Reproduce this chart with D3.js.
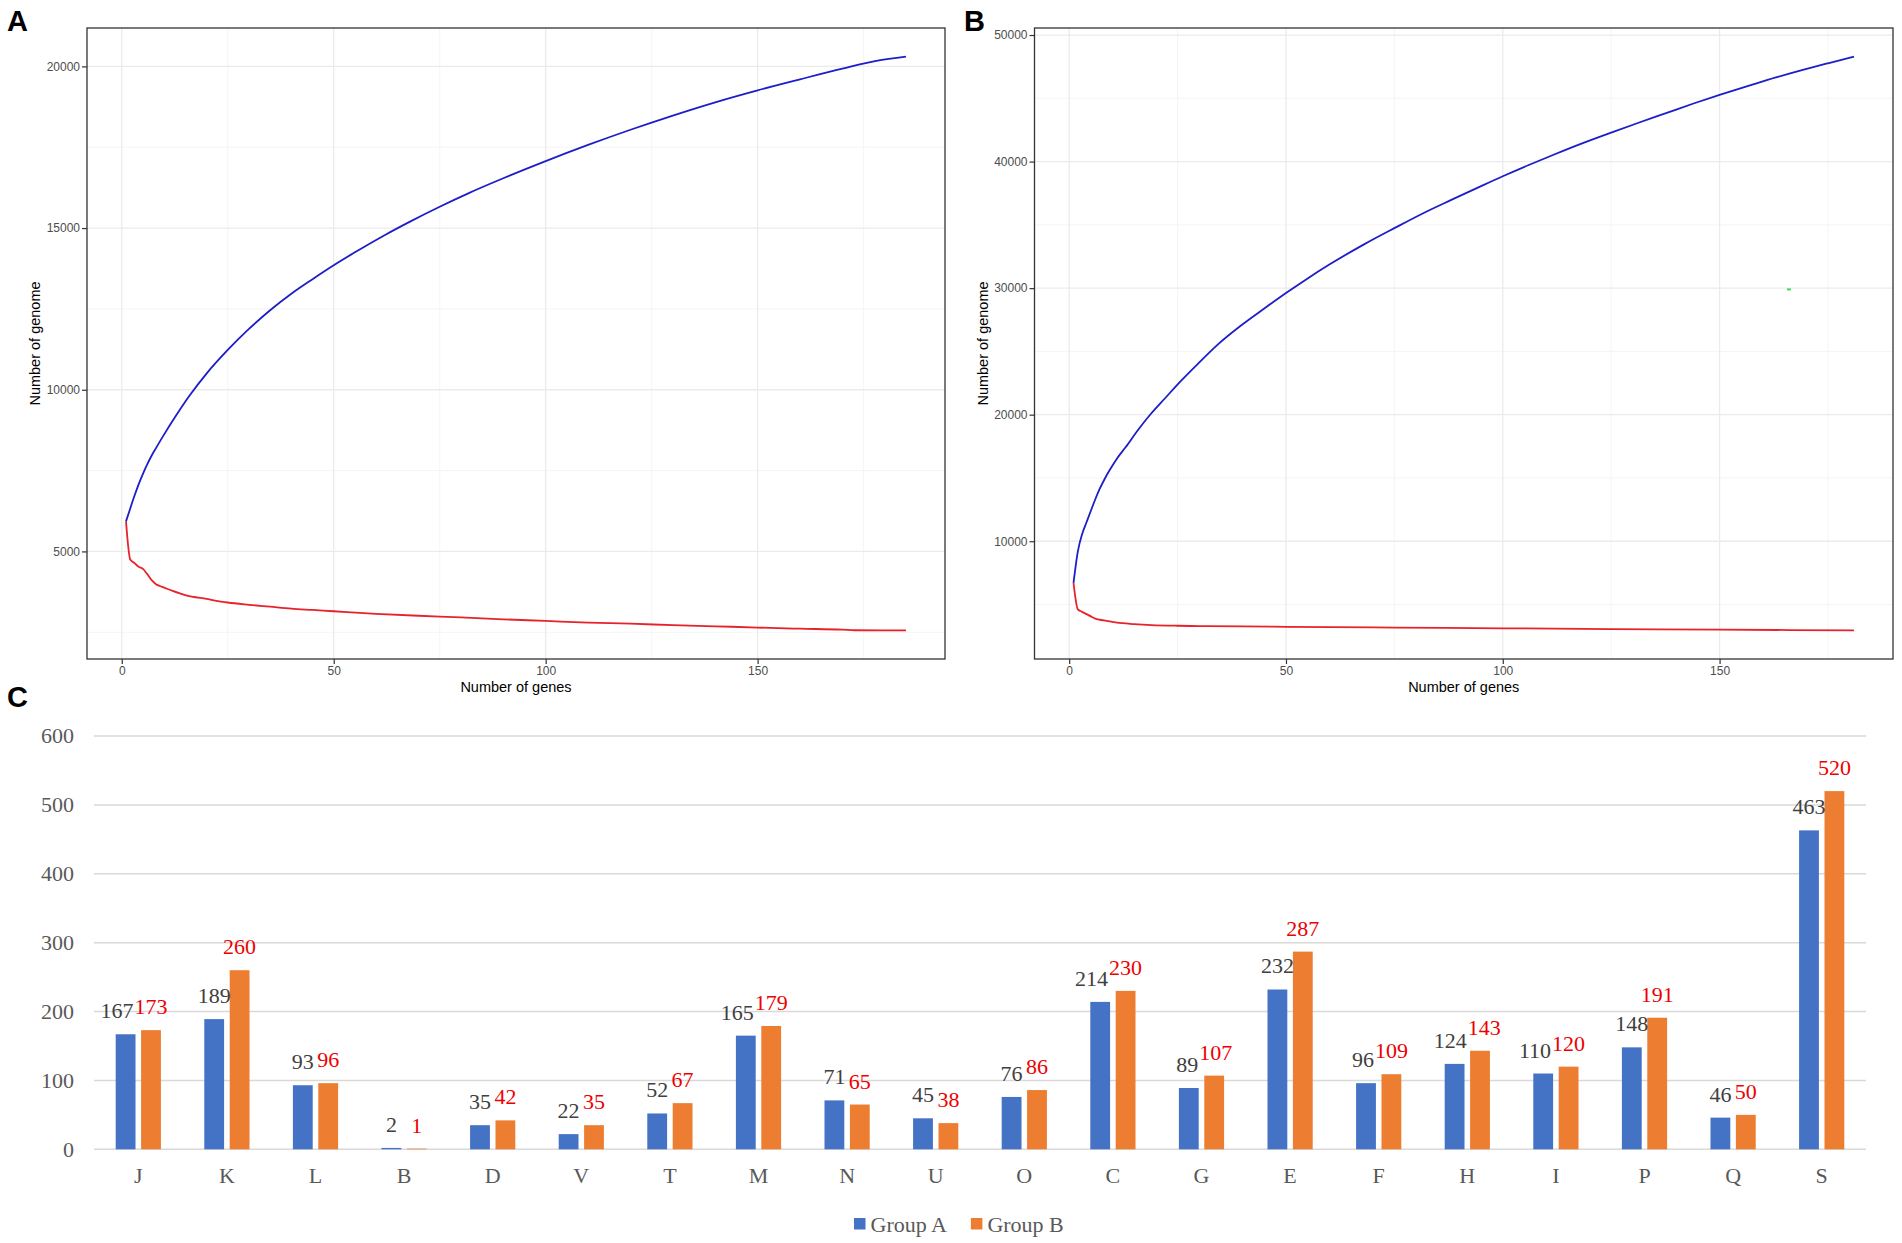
<!DOCTYPE html>
<html lang="en">
<head>
  <meta charset="UTF-8">
  <title>Pan / core genome curves and COG category counts</title>
  <script src="https://d3js.org/d3.v7.min.js"></script>
  <style>
    body { margin: 0; background: #fff; }
    svg { display: block; }
  </style>
</head>
<body>
<svg id="fig" width="1902" height="1243"></svg>

<script>
  // ---- Panel A: pan (blue) and core (red) genome curves ----
  const aPanGenes = [1, 2, 3, 4, 5, 6, 7, 8, 10, 13, 16, 20, 25, 30, 35, 40, 45, 50, 55, 62,
                     68, 75, 82, 90, 100, 110, 120, 130, 140, 150, 160, 170, 178, 185];
  const aPanCount = [5930, 6330, 6720, 7080, 7400, 7690, 7950, 8180, 8620, 9240, 9820, 10500, 11230, 11880, 12460, 12970, 13420, 13850, 14250, 14780,
                     15200, 15660, 16090, 16540, 17070, 17570, 18040, 18480, 18890, 19260, 19600, 19930, 20170, 20300];
  const aCoreGenes = [1, 2, 3, 4, 5, 6, 7, 8, 9, 10, 12, 15, 20, 25, 30, 35, 40, 45, 50, 60,
                      70, 80, 90, 100, 110, 120, 130, 140, 150, 160, 170, 173, 185];
  const aCoreCount = [5930, 4750, 4640, 4525, 4460, 4300, 4120, 3995, 3930, 3880, 3780, 3650, 3530, 3420, 3350, 3290, 3230, 3190, 3150, 3070,
                      3010, 2960, 2900, 2850, 2800, 2765, 2720, 2685, 2645, 2610, 2580, 2562, 2560];

  // ---- Panel B ----
  const bPanGenes = [1, 2, 3, 4, 5, 6, 7, 8, 9, 10, 11, 13, 16, 19, 22, 26, 30, 34, 40, 45,
                     50, 55, 60, 68, 75, 82, 88, 94, 100, 106, 112, 118, 125, 131, 138, 144, 150, 157, 163, 169,
                     175, 181];
  const bPanCount = [6710, 9200, 10580, 11500, 12410, 13300, 14110, 14800, 15430, 15990, 16520, 17420, 18850, 20130, 21260, 22750, 24130, 25460, 27140, 28390,
                     29610, 30770, 31860, 33460, 34740, 35980, 36950, 37900, 38840, 39730, 40580, 41400, 42290, 43030, 43870, 44590, 45270, 46020, 46650, 47230,
                     47770, 48290];
  const bCoreGenes = [1, 2, 3, 4, 5, 6, 8, 11, 15, 19, 25, 30, 40, 50, 75, 100, 125, 150, 181];
  const bCoreCount = [6710, 4610, 4420, 4240, 4060, 3890, 3740, 3560, 3450, 3375, 3320, 3295, 3265, 3240, 3180, 3120, 3060, 3010, 2960];
  const bStrayGenes = [166];
  const bStrayCount = [29900];

  const curveXTicks = [0, 50, 100, 150];
  const curveXMinor = [25, 75, 125, 175];
  const aYTicks = [5000, 10000, 15000, 20000];
  const aYMinor = [2500, 7500, 12500, 17500];
  const bYTicks = [10000, 20000, 30000, 40000, 50000];
  const bYMinor = [5000, 15000, 25000, 35000, 45000];

  // ---- Panel C: COG categories ----
  const cogCats = ["J", "K", "L", "B", "D", "V", "T", "M", "N", "U", "O", "C", "G", "E", "F", "H", "I", "P", "Q", "S"];
  const groupA = [167, 189, 93, 2, 35, 22, 52, 165, 71, 45, 76, 214, 89, 232, 96, 124, 110, 148, 46, 463];
  const groupB = [173, 260, 96, 1, 42, 35, 67, 179, 65, 38, 86, 230, 107, 287, 109, 143, 120, 191, 50, 520];
  const groupNames = ["Group A", "Group B"];
  const cTicks = [0, 100, 200, 300, 400, 500, 600];

  const sans = "'Liberation Sans', Arial, Helvetica, sans-serif";
  const serif = "'Liberation Serif', 'Times New Roman', serif";
  const svg = d3.select("#fig");

  // ggplot style 5% expansion
  function expand(vals) {
    const [lo, hi] = d3.extent(vals);
    const pad = (hi - lo) * 0.05;
    return [lo - pad, hi + pad];
  }

  function curvePanel(box, pan, core, stray, yTicks, yMinor, letter) {
    const g = svg.append("g");
    const allX = pan.x.concat(core.x), allY = pan.y.concat(core.y);
    const x = d3.scaleLinear().domain(expand(allX)).range([box.x0, box.x1]);
    const y = d3.scaleLinear().domain(expand(allY)).range([box.y1, box.y0]);

    // minor grid
    g.append("g").selectAll("line").data(curveXMinor).join("line")
      .attr("x1", d => x(d)).attr("x2", d => x(d)).attr("y1", box.y0).attr("y2", box.y1)
      .attr("stroke", "#f2f2f2").attr("stroke-width", 0.8);
    g.append("g").selectAll("line").data(yMinor).join("line")
      .attr("x1", box.x0).attr("x2", box.x1).attr("y1", d => y(d)).attr("y2", d => y(d))
      .attr("stroke", "#f2f2f2").attr("stroke-width", 0.8);
    // major grid
    g.append("g").selectAll("line").data(curveXTicks).join("line")
      .attr("x1", d => x(d)).attr("x2", d => x(d)).attr("y1", box.y0).attr("y2", box.y1)
      .attr("stroke", "#ebebeb").attr("stroke-width", 1.3);
    g.append("g").selectAll("line").data(yTicks).join("line")
      .attr("x1", box.x0).attr("x2", box.x1).attr("y1", d => y(d)).attr("y2", d => y(d))
      .attr("stroke", "#ebebeb").attr("stroke-width", 1.3);

    const line = d3.line().x(d => x(d[0])).y(d => y(d[1])).curve(d3.curveMonotoneX);
    g.append("path").datum(d3.zip(core.x, core.y)).attr("d", line)
      .attr("fill", "none").attr("stroke", "#e8222a").attr("stroke-width", 1.8);
    g.append("path").datum(d3.zip(pan.x, pan.y)).attr("d", line)
      .attr("fill", "none").attr("stroke", "#1d1dc9").attr("stroke-width", 1.8);

    if (stray) {
      g.selectAll("rect.stray").data(d3.zip(stray.x, stray.y)).join("rect")
        .attr("class", "stray")
        .attr("x", d => x(d[0]) - 2).attr("y", d => y(d[1]) - 1)
        .attr("width", 4).attr("height", 2).attr("fill", "#3cdc5a");
    }

    g.append("rect")
      .attr("x", box.x0).attr("y", box.y0)
      .attr("width", box.x1 - box.x0).attr("height", box.y1 - box.y0)
      .attr("fill", "none").attr("stroke", "#333").attr("stroke-width", 1.3);

    const xAxis = g.append("g").attr("transform", `translate(0,${box.y1})`)
      .call(d3.axisBottom(x).tickValues(curveXTicks).tickSize(5).tickPadding(2).tickFormat(d3.format("d")));
    const yAxis = g.append("g").attr("transform", `translate(${box.x0},0)`)
      .call(d3.axisLeft(y).tickValues(yTicks).tickSize(5).tickPadding(2).tickFormat(d3.format("d")));
    [xAxis, yAxis].forEach(ax => {
      ax.select(".domain").remove();
      ax.selectAll("line").attr("stroke", "#333").attr("stroke-width", 1.2);
      ax.selectAll("text").attr("fill", "#4d4d4d").style("font-family", sans).style("font-size", "12px");
    });

    g.append("text")
      .attr("x", (box.x0 + box.x1) / 2).attr("y", box.y1 + 33)
      .attr("text-anchor", "middle")
      .style("font-family", sans).style("font-size", "14.5px").attr("fill", "#000")
      .text("Number of genes");
    g.append("text")
      .attr("transform", `translate(${box.x0 - 47},${(box.y0 + box.y1) / 2}) rotate(-90)`)
      .attr("text-anchor", "middle")
      .style("font-family", sans).style("font-size", "14.5px").attr("fill", "#000")
      .text("Number of genome");

    svg.append("text")
      .attr("x", letter.x).attr("y", letter.y)
      .style("font-family", sans).style("font-weight", "bold").style("font-size", "29px")
      .text(letter.t);
  }

  curvePanel({x0: 87, x1: 945, y0: 28, y1: 659},
    {x: aPanGenes, y: aPanCount}, {x: aCoreGenes, y: aCoreCount}, null,
    aYTicks, aYMinor, {t: "A", x: 7, y: 31});

  curvePanel({x0: 1034.5, x1: 1893, y0: 28, y1: 659},
    {x: bPanGenes, y: bPanCount}, {x: bCoreGenes, y: bCoreCount}, {x: bStrayGenes, y: bStrayCount},
    bYTicks, bYMinor, {t: "B", x: 964, y: 31});

  // ---- Panel C: grouped bars ----
  const c = svg.append("g");
  const xC = d3.scaleBand().domain(cogCats).range([94, 1866]).paddingInner(0.4266).paddingOuter(0.2133);
  const sub = d3.scaleBand().domain(groupNames).range([0, xC.bandwidth()]).paddingInner(0.22).paddingOuter(0.11);
  const yC = d3.scaleLinear().domain([0, 600]).range([1149.3, 736]);
  const colors = {"Group A": "#4472c4", "Group B": "#ed7d31"};
  const labelColors = {"Group A": "#404040", "Group B": "#ee0000"};

  c.append("g").selectAll("line").data(cTicks).join("line")
    .attr("x1", 94).attr("x2", 1866).attr("y1", d => yC(d)).attr("y2", d => yC(d))
    .attr("stroke", "#d9d9d9").attr("stroke-width", 1.5);
  c.append("g").selectAll("text").data(cTicks).join("text")
    .attr("x", 74).attr("y", d => yC(d)).attr("dy", "0.34em")
    .attr("text-anchor", "end")
    .style("font-family", serif).style("font-size", "22px").attr("fill", "#595959")
    .text(d => d);
  c.append("g").selectAll("text").data(cogCats).join("text")
    .attr("x", d => xC(d) + xC.bandwidth() / 2).attr("y", 1183)
    .attr("text-anchor", "middle")
    .style("font-family", serif).style("font-size", "22px").attr("fill", "#595959")
    .text(d => d);

  const rows = cogCats.map((cat, i) => ({cat, vals: [
    {grp: "Group A", v: groupA[i]}, {grp: "Group B", v: groupB[i]}]}));

  const catG = c.append("g").selectAll("g").data(rows).join("g")
    .attr("transform", d => `translate(${xC(d.cat)},0)`);
  catG.selectAll("rect").data(d => d.vals).join("rect")
    .attr("x", d => sub(d.grp)).attr("width", sub.bandwidth())
    .attr("y", d => yC(d.v)).attr("height", d => yC(0) - yC(d.v))
    .attr("fill", d => colors[d.grp]);
  catG.selectAll("text").data(d => d.vals).join("text")
    .attr("x", d => sub(d.grp) + sub.bandwidth() / 2)
    .attr("y", d => yC(d.v) - 16)
    .attr("text-anchor", "middle")
    .style("font-family", serif).style("font-size", "22px")
    .attr("fill", d => labelColors[d.grp])
    .text(d => d.v);

  // push the two labels of a pair apart where they would collide
  catG.each(function (d) {
    const t = d3.select(this).selectAll("text").nodes();
    const wa = t[0].getComputedTextLength(), wb = t[1].getComputedTextLength();
    const dy = Math.abs(yC(d.vals[0].v) - yC(d.vals[1].v));
    const need = (wa + wb) / 2 + 1 - sub.step();
    if (need <= 0 || dy >= 16) return;
    const left = dy < 12 ? need : need / 2;
    const right = need - left;
    d3.select(t[0]).attr("x", +t[0].getAttribute("x") - left);
    d3.select(t[1]).attr("x", +t[1].getAttribute("x") + right);
  });

  // legend
  const leg = c.append("g").attr("transform", "translate(854,1218)");
  let lx = 0;
  groupNames.forEach(name => {
    leg.append("rect").attr("x", lx).attr("y", 0).attr("width", 11.5).attr("height", 11.5)
      .attr("fill", colors[name]);
    const t = leg.append("text").attr("x", lx + 16.5).attr("y", 13.5)
      .style("font-family", serif).style("font-size", "22px").attr("fill", "#595959")
      .text(name);
    lx += 16.5 + t.node().getComputedTextLength() + 24;
  });

  svg.append("text")
    .attr("x", 7).attr("y", 707)
    .style("font-family", sans).style("font-weight", "bold").style("font-size", "29px")
    .text("C");
</script>
</body>
</html>
